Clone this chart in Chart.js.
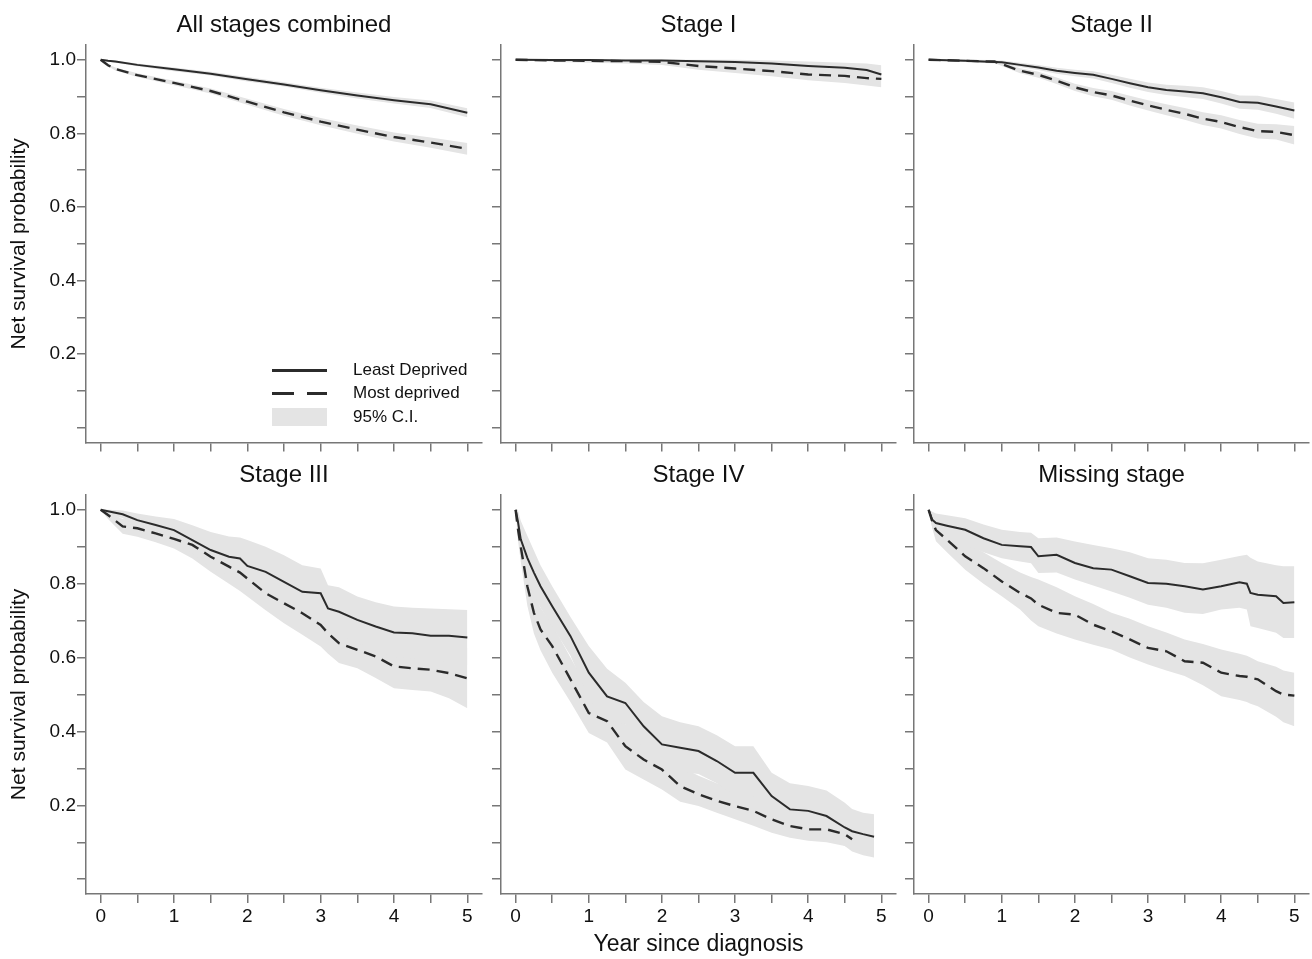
<!DOCTYPE html>
<html>
<head>
<meta charset="utf-8">
<script src="https://cdn.jsdelivr.net/npm/chart.js@4.4.1/dist/chart.umd.min.js"></script>
<style>
    body { margin: 0; background: #fff; width: 1312px; height: 959px; position: relative; overflow: hidden;
           font-family: "Liberation Sans", Arial, sans-serif; color: #111; }
    canvas { position: absolute; }
    .lg { position: absolute; }
    .lg-text { position: absolute; left: 353px; font-size: 17px; line-height: 20px; white-space: nowrap; }
</style>
</head>
<body>
<canvas id="c0"></canvas>
<canvas id="c1"></canvas>
<canvas id="c2"></canvas>
<canvas id="c3"></canvas>
<canvas id="c4"></canvas>
<canvas id="c5"></canvas>

<!-- legend of the first panel -->
<div class="lg" style="left:272px;top:369px;width:55px;height:3px;background:#2b2b2b"></div>
<div class="lg" style="left:272px;top:392px;width:22px;height:3px;background:#2b2b2b"></div>
<div class="lg" style="left:307px;top:392px;width:20px;height:3px;background:#2b2b2b"></div>
<div class="lg" style="left:272px;top:408px;width:55px;height:18px;background:#e4e4e4"></div>
<div class="lg-text" style="top:360px">Least Deprived</div>
<div class="lg-text" style="top:383px">Most deprived</div>
<div class="lg-text" style="top:407px">95% C.I.</div>

<script>
/************************
 *      Data
 ************************/
const Y_TICKS = [0, 0.1, 0.2, 0.3, 0.4, 0.5, 0.6, 0.7, 0.8, 0.9, 1.0]
const Y_LABELS = [0.2, 0.4, 0.6, 0.8, 1.0]
const X_TICKS = [0, 0.5, 1, 1.5, 2, 2.5, 3, 3.5, 4, 4.5, 5]
const X_LABELS = [0, 1, 2, 3, 4, 5]

// All stages combined
const ALL_T = [0, 0.1, 0.2, 0.5, 1, 1.5, 2, 2.5, 3, 3.5, 4, 4.5, 5]
const ALL_LEAST = [1.000, 0.997, 0.995, 0.986, 0.974, 0.962, 0.947, 0.933, 0.917, 0.903, 0.890, 0.879, 0.856]
const ALL_LEAST_LO = [1.000, 0.995, 0.992, 0.982, 0.969, 0.957, 0.941, 0.927, 0.910, 0.895, 0.881, 0.869, 0.844]
const ALL_LEAST_HI = [1.000, 0.999, 0.998, 0.990, 0.979, 0.967, 0.953, 0.939, 0.924, 0.911, 0.899, 0.889, 0.868]
const ALL_MOST = [1.000, 0.985, 0.975, 0.958, 0.937, 0.915, 0.886, 0.857, 0.832, 0.810, 0.790, 0.775, 0.758]
const ALL_MOST_LO = [1.000, 0.982, 0.971, 0.953, 0.931, 0.908, 0.878, 0.848, 0.822, 0.799, 0.778, 0.761, 0.742]
const ALL_MOST_HI = [1.000, 0.988, 0.979, 0.963, 0.943, 0.922, 0.894, 0.866, 0.842, 0.821, 0.802, 0.789, 0.774]

// Stage I
const S1_T = [0, 0.5, 1, 1.5, 2, 2.5, 3, 3.5, 4, 4.5, 4.8, 5]
const S1_LEAST = [1.000, 0.999, 0.999, 0.998, 0.998, 0.996, 0.994, 0.990, 0.983, 0.978, 0.972, 0.960]
const S1_LEAST_LO = [1.000, 0.996, 0.995, 0.993, 0.992, 0.989, 0.986, 0.981, 0.973, 0.966, 0.959, 0.945]
const S1_LEAST_HI = [1.000, 1.000, 1.000, 1.000, 1.000, 1.000, 1.000, 0.998, 0.995, 0.992, 0.990, 0.985]
const S1_MOST = [1.000, 0.998, 0.997, 0.996, 0.994, 0.983, 0.976, 0.969, 0.960, 0.956, 0.950, 0.948]
const S1_MOST_LO = [1.000, 0.994, 0.992, 0.990, 0.986, 0.973, 0.964, 0.955, 0.944, 0.937, 0.930, 0.925]
const S1_MOST_HI = [1.000, 1.000, 1.000, 1.000, 1.000, 0.993, 0.988, 0.983, 0.976, 0.975, 0.970, 0.971]

// Stage II
const S2_T = [0, 0.5, 0.9, 1, 1.25, 1.5, 1.75, 2, 2.25, 2.5, 2.75, 3, 3.25, 3.5, 3.75, 4, 4.25, 4.5, 4.75, 5]
const S2_LEAST = [1.000, 0.997, 0.994, 0.993, 0.986, 0.979, 0.970, 0.964, 0.959, 0.948, 0.936, 0.925, 0.918, 0.914, 0.909, 0.898, 0.885, 0.883, 0.873, 0.862]
const S2_LEAST_LO = [1.000, 0.994, 0.990, 0.988, 0.980, 0.972, 0.962, 0.955, 0.949, 0.937, 0.924, 0.912, 0.904, 0.899, 0.893, 0.881, 0.867, 0.864, 0.853, 0.840]
const S2_LEAST_HI = [1.000, 1.000, 0.998, 0.998, 0.992, 0.986, 0.978, 0.973, 0.969, 0.959, 0.948, 0.938, 0.932, 0.929, 0.925, 0.915, 0.903, 0.902, 0.893, 0.884]
const S2_MOST = [1.000, 0.997, 0.995, 0.988, 0.970, 0.959, 0.943, 0.925, 0.912, 0.903, 0.889, 0.876, 0.864, 0.853, 0.840, 0.831, 0.817, 0.806, 0.804, 0.795]
const S2_MOST_LO = [1.000, 0.994, 0.991, 0.983, 0.963, 0.951, 0.934, 0.915, 0.901, 0.891, 0.876, 0.862, 0.849, 0.837, 0.823, 0.813, 0.798, 0.786, 0.783, 0.770]
const S2_MOST_HI = [1.000, 1.000, 0.999, 0.993, 0.977, 0.967, 0.952, 0.935, 0.923, 0.915, 0.902, 0.890, 0.879, 0.869, 0.857, 0.849, 0.836, 0.826, 0.825, 0.820]

// Stage III
const S3_T = [0, 0.1, 0.3, 0.5, 0.75, 1, 1.25, 1.5, 1.75, 1.9, 2, 2.25, 2.5, 2.75, 3, 3.1, 3.25, 3.5, 3.75, 4, 4.25, 4.5, 4.75, 5]
const S3_LEAST = [1.000, 0.996, 0.988, 0.972, 0.959, 0.945, 0.918, 0.891, 0.873, 0.868, 0.848, 0.832, 0.805, 0.778, 0.774, 0.733, 0.724, 0.702, 0.684, 0.668, 0.666, 0.659, 0.659, 0.654]
const S3_LEAST_LO = [1.000, 0.990, 0.977, 0.955, 0.937, 0.918, 0.880, 0.845, 0.820, 0.812, 0.780, 0.765, 0.735, 0.707, 0.705, 0.672, 0.660, 0.640, 0.620, 0.600, 0.598, 0.590, 0.589, 0.580]
const S3_LEAST_HI = [1.000, 1.000, 0.998, 0.990, 0.982, 0.975, 0.958, 0.940, 0.928, 0.925, 0.918, 0.900, 0.877, 0.850, 0.841, 0.796, 0.790, 0.765, 0.750, 0.738, 0.735, 0.733, 0.731, 0.729]
const S3_MOST = [1.000, 0.986, 0.955, 0.950, 0.936, 0.921, 0.905, 0.873, 0.846, 0.830, 0.814, 0.774, 0.747, 0.720, 0.688, 0.666, 0.639, 0.621, 0.603, 0.576, 0.571, 0.567, 0.558, 0.544]
const S3_MOST_LO = [1.000, 0.975, 0.935, 0.927, 0.912, 0.895, 0.868, 0.832, 0.800, 0.780, 0.765, 0.728, 0.693, 0.662, 0.630, 0.610, 0.585, 0.571, 0.545, 0.517, 0.512, 0.508, 0.490, 0.463]
const S3_MOST_HI = [1.000, 0.996, 0.975, 0.972, 0.960, 0.947, 0.942, 0.914, 0.892, 0.880, 0.863, 0.820, 0.801, 0.778, 0.746, 0.730, 0.693, 0.671, 0.661, 0.635, 0.630, 0.626, 0.626, 0.625]

// Stage IV (most deprived curve stops at 4.6 years)
const S4_T = [0, 0.03, 0.07, 0.16, 0.25, 0.34, 0.5, 0.75, 1, 1.25, 1.5, 1.75, 2, 2.25, 2.5, 2.75, 3, 3.25, 3.5, 3.75, 4, 4.25, 4.5, 4.6, 4.75, 4.9]
const S4_LEAST = [1.000, 0.970, 0.920, 0.870, 0.830, 0.793, 0.739, 0.658, 0.559, 0.495, 0.477, 0.414, 0.365, 0.356, 0.347, 0.320, 0.288, 0.288, 0.225, 0.189, 0.185, 0.171, 0.140, 0.130, 0.122, 0.115]
const S4_LEAST_LO = [1.000, 0.940, 0.870, 0.810, 0.770, 0.735, 0.685, 0.605, 0.490, 0.430, 0.420, 0.355, 0.300, 0.290, 0.285, 0.260, 0.225, 0.225, 0.170, 0.135, 0.130, 0.115, 0.090, 0.080, 0.075, 0.065]
const S4_LEAST_HI = [1.000, 1.000, 0.970, 0.930, 0.890, 0.850, 0.793, 0.710, 0.631, 0.570, 0.532, 0.480, 0.441, 0.425, 0.414, 0.390, 0.360, 0.360, 0.288, 0.260, 0.252, 0.240, 0.207, 0.190, 0.180, 0.176]
const S4_MOST = [1.000, 0.950, 0.900, 0.793, 0.721, 0.676, 0.631, 0.541, 0.450, 0.428, 0.360, 0.324, 0.297, 0.252, 0.230, 0.212, 0.198, 0.185, 0.162, 0.144, 0.135, 0.135, 0.122, 0.108, null, null]
const S4_MOST_LO = [1.000, 0.920, 0.860, 0.740, 0.665, 0.620, 0.559, 0.480, 0.396, 0.370, 0.297, 0.270, 0.243, 0.210, 0.198, 0.180, 0.162, 0.145, 0.126, 0.112, 0.104, 0.100, 0.090, 0.075, 0.065, 0.059]
const S4_MOST_HI = [1.000, 0.980, 0.940, 0.850, 0.780, 0.735, 0.690, 0.600, 0.510, 0.485, 0.420, 0.385, 0.350, 0.305, 0.280, 0.260, 0.245, 0.230, 0.205, 0.185, 0.175, 0.175, 0.165, 0.150, 0.150, 0.150]

// Missing stage
const SM_T = [0, 0.05, 0.1, 0.25, 0.5, 0.75, 1, 1.25, 1.4, 1.5, 1.75, 2, 2.25, 2.5, 2.75, 3, 3.25, 3.5, 3.75, 4, 4.25, 4.35, 4.4, 4.5, 4.75, 4.85, 5]
const SM_LEAST = [1.000, 0.973, 0.964, 0.957, 0.946, 0.923, 0.905, 0.901, 0.899, 0.874, 0.878, 0.856, 0.842, 0.838, 0.820, 0.802, 0.800, 0.793, 0.784, 0.793, 0.804, 0.800, 0.775, 0.770, 0.766, 0.748, 0.750]
const SM_LEAST_LO = [1.000, 0.950, 0.935, 0.925, 0.905, 0.885, 0.869, 0.860, 0.855, 0.829, 0.830, 0.811, 0.795, 0.779, 0.762, 0.743, 0.735, 0.721, 0.718, 0.730, 0.735, 0.730, 0.685, 0.680, 0.667, 0.653, 0.653]
const SM_LEAST_HI = [1.000, 0.995, 0.990, 0.985, 0.977, 0.960, 0.946, 0.940, 0.938, 0.923, 0.925, 0.914, 0.905, 0.896, 0.885, 0.869, 0.865, 0.856, 0.855, 0.865, 0.875, 0.878, 0.870, 0.860, 0.850, 0.847, 0.847]
const SM_MOST = [1.000, 0.968, 0.945, 0.919, 0.874, 0.842, 0.806, 0.775, 0.760, 0.743, 0.721, 0.716, 0.689, 0.671, 0.649, 0.626, 0.617, 0.590, 0.586, 0.559, 0.550, 0.548, 0.545, 0.541, 0.509, 0.500, 0.497]
const SM_MOST_LO = [1.000, 0.950, 0.915, 0.885, 0.838, 0.800, 0.766, 0.730, 0.700, 0.685, 0.665, 0.649, 0.635, 0.622, 0.600, 0.581, 0.565, 0.550, 0.525, 0.495, 0.485, 0.480, 0.475, 0.468, 0.440, 0.425, 0.414]
const SM_MOST_HI = [1.000, 0.990, 0.975, 0.955, 0.910, 0.885, 0.856, 0.830, 0.818, 0.811, 0.790, 0.766, 0.745, 0.721, 0.705, 0.685, 0.668, 0.649, 0.637, 0.622, 0.610, 0.605, 0.600, 0.590, 0.575, 0.565, 0.559]

/************************
 *      Layout
 ************************/
const LINE_COLOR = '#2b2b2b'
const BAND_COLOR = '#e4e4e4'
const AXIS_COLOR = '#777'
const FONT = '"Liberation Sans", Arial, sans-serif'

const COLS = [
    { left: 0, width: 486, yW: 86, padR: 4 },
    { left: 483, width: 417, yW: 18, padR: 4 },
    { left: 896, width: 415, yW: 18, padR: 2 }
]
const ROWS = [
    { top: 0, height: 455, xH: 12, titleTop: 12 },
    { top: 440, height: 519, xH: 65, titleTop: 22 }
]

const PANELS = [
    { title: 'All stages combined', t: ALL_T, least: [ALL_LEAST, ALL_LEAST_LO, ALL_LEAST_HI], most: [ALL_MOST, ALL_MOST_LO, ALL_MOST_HI] },
    { title: 'Stage I', t: S1_T, least: [S1_LEAST, S1_LEAST_LO, S1_LEAST_HI], most: [S1_MOST, S1_MOST_LO, S1_MOST_HI] },
    { title: 'Stage II', t: S2_T, least: [S2_LEAST, S2_LEAST_LO, S2_LEAST_HI], most: [S2_MOST, S2_MOST_LO, S2_MOST_HI] },
    { title: 'Stage III', t: S3_T, least: [S3_LEAST, S3_LEAST_LO, S3_LEAST_HI], most: [S3_MOST, S3_MOST_LO, S3_MOST_HI] },
    { title: 'Stage IV', t: S4_T, least: [S4_LEAST, S4_LEAST_LO, S4_LEAST_HI], most: [S4_MOST, S4_MOST_LO, S4_MOST_HI] },
    { title: 'Missing stage', t: SM_T, least: [SM_LEAST, SM_LEAST_LO, SM_LEAST_HI], most: [SM_MOST, SM_MOST_LO, SM_MOST_HI] }
]

/************************
 *      Method
 ************************/
const toPoints = (t, ys) => t.map((x, i) => ({ x: x, y: ys[i] })).filter(p => p.y !== null)

const lineSet = (t, ys, dashed) => ({
    data: toPoints(t, ys),
    borderColor: LINE_COLOR,
    borderWidth: dashed ? 2.4 : 2,
    borderDash: dashed ? [12, 7] : [],
    pointRadius: 0,
    tension: 0,
    fill: false
})

const bandSet = (t, ys, fill) => ({
    data: toPoints(t, ys),
    borderWidth: 0,
    borderColor: 'rgba(0,0,0,0)',
    backgroundColor: BAND_COLOR,
    pointRadius: 0,
    tension: 0,
    fill: fill
})

const createPanel = (index) => {
    const panel = PANELS[index]
    const col = COLS[index % 3]
    const row = ROWS[Math.floor(index / 3)]
    const isBottom = index >= 3

    const canvas = document.getElementById('c' + index)
    canvas.width = col.width
    canvas.height = row.height
    canvas.style.left = col.left + 'px'
    canvas.style.top = row.top + 'px'

    new Chart(canvas, {
        type: 'line',
        data: {
            datasets: [
                lineSet(panel.t, panel.least[0], false),
                lineSet(panel.t, panel.most[0], true),
                bandSet(panel.t, panel.least[2], '+1'),
                bandSet(panel.t, panel.least[1], false),
                bandSet(panel.t, panel.most[2], '+1'),
                bandSet(panel.t, panel.most[1], false)
            ]
        },
        options: {
            responsive: false,
            animation: false,
            layout: { padding: { left: 0, right: col.padR, top: 0, bottom: 0 } },
            plugins: {
                legend: { display: false },
                tooltip: { enabled: false },
                title: {
                    display: true,
                    fullSize: false,
                    text: panel.title,
                    color: '#111',
                    font: { family: FONT, size: 24, weight: 'normal' },
                    padding: { top: row.titleTop - 1, bottom: 5.2 }
                }
            },
            scales: {
                x: {
                    type: 'linear',
                    min: -0.2,
                    max: 5.2,
                    afterBuildTicks: (s) => { s.ticks = X_TICKS.map(v => ({ value: v })) },
                    afterFit: (s) => { s.height = row.xH },
                    ticks: {
                        color: '#111',
                        font: { family: FONT, size: 19 },
                        padding: 2,
                        maxRotation: 0,
                        autoSkip: false,
                        callback: (v) => (isBottom && X_LABELS.includes(v)) ? String(v) : ''
                    },
                    grid: { drawOnChartArea: false, drawTicks: true, tickLength: 9, color: AXIS_COLOR, lineWidth: 1.5 },
                    border: { display: true, color: AXIS_COLOR, width: 1.5 },
                    title: {
                        display: index === 4,
                        text: 'Year since diagnosis',
                        color: '#111',
                        font: { family: FONT, size: 23 },
                        padding: { top: 0, bottom: 1 }
                    }
                },
                y: {
                    type: 'linear',
                    min: -0.04,
                    max: 1.04,
                    afterBuildTicks: (s) => { s.ticks = Y_TICKS.map(v => ({ value: v })) },
                    afterFit: (s) => { s.width = col.yW },
                    ticks: {
                        color: '#111',
                        font: { family: FONT, size: 19 },
                        padding: 1,
                        autoSkip: false,
                        callback: (v) => (index % 3 === 0 && Y_LABELS.includes(v)) ? v.toFixed(1) : ''
                    },
                    grid: { drawOnChartArea: false, drawTicks: true, tickLength: 9, color: AXIS_COLOR, lineWidth: 1.5 },
                    border: { display: true, color: AXIS_COLOR, width: 1.5 },
                    title: {
                        display: index % 3 === 0,
                        text: 'Net survival probability',
                        color: '#111',
                        font: { family: FONT, size: 21 },
                        padding: { top: 7, bottom: 0 }
                    }
                }
            }
        }
    })
}

PANELS.forEach((p, i) => createPanel(i))
</script>
</body>
</html>
